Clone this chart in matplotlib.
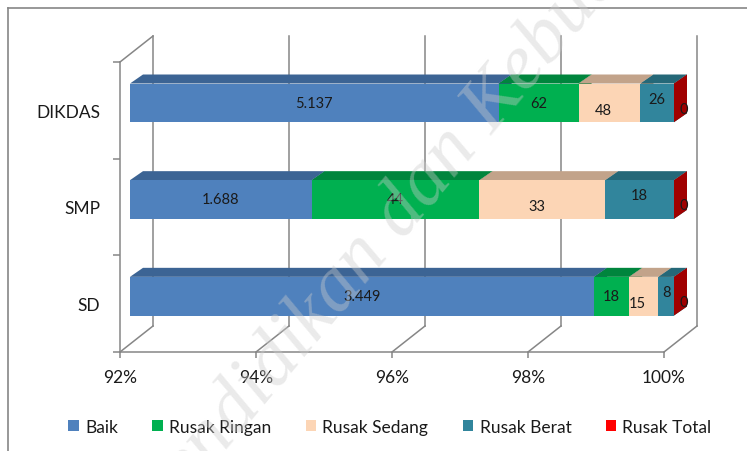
import matplotlib
matplotlib.use("Agg")
import matplotlib.pyplot as plt
from matplotlib.patches import Polygon, Patch
from matplotlib.lines import Line2D

# data (bottom to top as drawn)
categories = ["SD", "SMP", "DIKDAS"]
series = ["Baik", "Rusak Ringan", "Rusak Sedang", "Rusak Berat", "Rusak Total"]
baik = [3449, 1688, 5137]
rusak_ringan = [18, 44, 62]
rusak_sedang = [15, 33, 48]
rusak_berat = [8, 18, 26]
rusak_total = [0, 0, 0]
x_ticks = [92, 94, 96, 98, 100]
x_labels = ["92%", "94%", "96%", "98%", "100%"]

data = [baik, rusak_ringan, rusak_sedang, rusak_berat, rusak_total]

front_col = ["#4F81BD", "#00B050", "#FCD5B5", "#31859C", "#FF0000"]
top_col = ["#3C6494", "#00853D", "#C2A38A", "#256878", "#B00000"]
side_col = ["#34578A", "#007A36", "#B8997F", "#1F5C6B", "#A00000"]
grid_col = "#868686"
text_col = "#1a1a1a"

plt.rcParams["font.family"] = ["Lato", "DejaVu Sans"]

W, H = 747, 452
fig = plt.figure(figsize=(W / 100, H / 100), dpi=100)
ax = fig.add_axes([120 / W, 1 - 353 / H, 544 / W, 290 / H])
ax.set_xlim(92, 100)
ax.set_ylim(0, 3)

# pixel -> data helpers for the fake 3d depth
sx = 544 / 8
sy = 290 / 3


def off(px, py):
    return px / sx, py / sy


fx, fy = off(10, 7.5)    # bar front plane
bx, by = off(23, 16.5)   # bar back plane
wx, wy = off(33, 26)     # back wall

# walls and floor
for t in x_ticks:
    ax.plot([t + wx, t + wx], [wy, 3 + wy], color=grid_col, lw=1.1, clip_on=False, zorder=1)
    ax.plot([t, t + wx], [0, wy], color=grid_col, lw=1.1, clip_on=False, zorder=1)
ax.plot([92, 92 + wx], [3, 3 + wy], color=grid_col, lw=1.1, clip_on=False, zorder=1)

# bars
half = 0.2
label_dx = [0, 0, -6, 0, 20]
label_dy = [0, 0, -7, 4, -6]
for i, cat in enumerate(categories):
    total = sum(s[i] for s in data)
    yc = i + 0.5
    yb, yt = yc - half, yc + half
    start = 0.0
    for j, s in enumerate(data):
        end = start + s[i] / total * 100
        x0 = max(start, 92)
        x1 = end
        side = Polygon([(x1 + fx, yb + fy), (x1 + bx, yb + by), (x1 + bx, yt + by), (x1 + fx, yt + fy)],
                       closed=True, facecolor=side_col[j], lw=0, clip_on=False, zorder=3)
        top = Polygon([(x0 + fx, yt + fy), (x1 + fx, yt + fy), (x1 + bx, yt + by), (x0 + bx, yt + by)],
                      closed=True, facecolor=top_col[j], lw=0, clip_on=False, zorder=3)
        front = Polygon([(x0 + fx, yb + fy), (x1 + fx, yb + fy), (x1 + fx, yt + fy), (x0 + fx, yt + fy)],
                        closed=True, facecolor=front_col[j], lw=0, clip_on=False, zorder=3)
        ax.add_patch(side)
        ax.add_patch(top)
        ax.add_patch(front)

        ddx, ddy = off(label_dx[j], label_dy[j])
        if j == len(data) - 1:
            lx = x1 + ddx
        else:
            lx = (x0 + x1) / 2 + fx + ddx
        ly = yc + fy + ddy
        ax.text(lx, ly, f"{s[i]:,}".replace(",", "."), ha="center", va="center",
                fontsize=10.5, color=text_col, zorder=5, clip_on=False)
        start = end

# axes styling
for side_name in ["top", "right"]:
    ax.spines[side_name].set_visible(False)
for side_name in ["left", "bottom"]:
    ax.spines[side_name].set_color(grid_col)
    ax.spines[side_name].set_linewidth(1.1)

ax.set_xticks(x_ticks, x_labels)
ax.tick_params(axis="x", length=4.3, width=1.1, color=grid_col, pad=8,
               labelsize=12.5, labelcolor=text_col)
ax.set_yticks([0.5, 1.5, 2.5], categories)
ax.tick_params(axis="y", which="major", length=0, pad=14.4, labelsize=12.5, labelcolor=text_col)
ax.set_yticks([0, 1, 2, 3], minor=True)
ax.tick_params(axis="y", which="minor", length=5, width=1.1, color=grid_col)
ax.set_facecolor("none")

# legend
handles = [Patch(facecolor=c, edgecolor="none") for c in front_col]
fig.legend(handles, series, loc="center", bbox_to_anchor=(390 / W, 1 - 428 / H), ncol=5,
           frameon=False, handlelength=0.6, handleheight=0.6, handletextpad=0.35,
           columnspacing=2.0, fontsize=12.5, labelcolor=text_col)

# chart area border (partly outside the picture)
fig.add_artist(Line2D([8 / W, 8 / W], [0, 1 - 9 / H], transform=fig.transFigure, color=grid_col, lw=1.2))
fig.add_artist(Line2D([8 / W, 1], [1 - 9 / H, 1 - 9 / H], transform=fig.transFigure, color=grid_col, lw=1.2))

# watermark
fig.text(440 / W, 1 - 168 / H, "Pendidikan dan Kebudayaan", rotation=50, rotation_mode="anchor",
         ha="center", va="center", fontsize=57, family="Liberation Serif", style="italic",
         color="#cccccc", alpha=0.4, zorder=10)

fig.savefig("out.png", dpi=100)
